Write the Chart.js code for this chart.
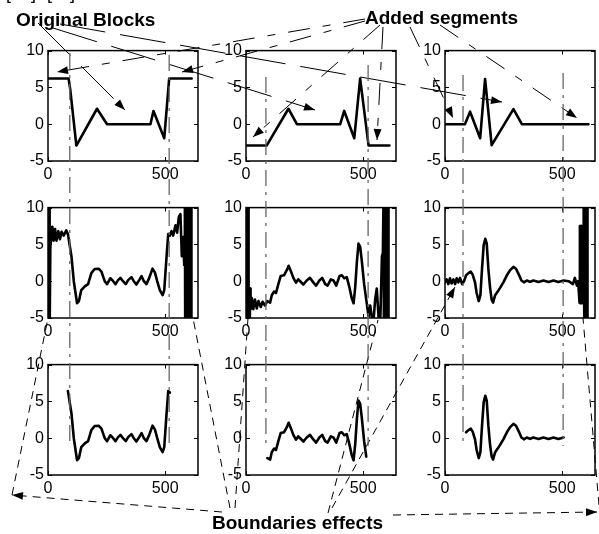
<!DOCTYPE html>
<html><head><meta charset="utf-8">
<script src="https://cdn.jsdelivr.net/npm/chart.js@4.4.1/dist/chart.umd.min.js"></script>
<style>
html,body{margin:0;padding:0;background:#fff;}
#wrap{position:relative;width:599px;height:534px;overflow:hidden;background:#fff;}
canvas{position:absolute;display:block;}
.t{position:absolute;font-family:"Liberation Sans",Arial,sans-serif;font-weight:bold;font-size:19px;line-height:19px;white-space:nowrap;color:#000;}
.br{position:absolute;font-family:"Liberation Sans",Arial,sans-serif;font-size:18px;line-height:18px;color:#000;}
</style></head><body><div id="wrap"></div>
<script>
// ---------- data ----------
const xTicks = [0, 500];
const yTicks = [-5, 0, 5, 10];
const xMin = 0, xMax = 640, yMin = -5, yMax = 10;

// row 1: original blocks + added segments
const r1c1x = [0, 88, 95, 121, 209, 252, 437, 450, 496, 517, 613];
const r1c1y = [6.2, 6.2, 4.7, -2.9, 2.1, 0, 0, 1.8, -1.9, 6.2, 6.2];
const r1c2x = [0, 88, 181, 217, 402, 419, 462, 487, 523, 612];
const r1c2y = [-2.9, -2.9, 2.1, 0, 0, 1.8, -1.9, 6.2, -2.9, -2.9];
const r1c3x = [0, 85, 107, 150, 171, 199, 292, 328, 612];
const r1c3y = [0, 0, 1.7, -1.9, 6.15, -2.85, 2.05, 0, 0];

// row 2: filtered signals with boundary effects
const r2c1x = [0,1,2,3,4,5,6,7,8,10,18.5,24,30,36,44,51,58,67,78,85,100,110,124,132,142,157,171,185,199,216,228,242,252,266,278,288,299,309,320,332,342,356,366,377,389,399,409,420,432,446,456,466,477,489,496,506,513,520,527,534,544,551,558,565,571,577,581,584,585.5,587,588.5,590,591.5,593,594.5,596,597.5,599,600.5,602,603.5,605,606.5,608,609.5,611,612];
const r2c1y = [-7,12,-7,12,-7,12,-7,12,-7,4.7,7.4,5.5,7.1,5.5,6.8,5.7,6.7,6.2,6.9,6.4,3.4,0,-3.0,-2.7,-1.2,-0.7,-0.4,1.1,1.65,1.7,1.3,0,-0.4,0.4,0,-0.4,0.15,0.45,0,-0.4,0.15,0.55,0,-0.45,0.15,0.7,0,-0.4,0.45,1.7,1.2,0,-1.2,-1.9,-1.2,3.4,6.4,6.2,6.8,6.2,7.6,6.6,8.7,9.1,3.4,6,2.2,12,-7,12,-7,12,-7,12,-7,12,-7,12,-7,12,-7,12,-7,12,-7,12,-7];
const r2c2x = [0,1,2,3,4,5,6,7,8,9,10,11,12,14,16,18,19.5,25,31,38,46,53,63,71,81,91,103,110,120,128,138,148,162,174,182,191,202,213,223,231,245,259,273,288,299,313,325,338,348,362,373,385,399,409,419,430,441,451,459,466,473,480,487,494,504,513,523,530,537,544,551,558,566,573,580,584,587,588.5,590,591.5,593,594.5,596,597.5,599,600.5,602,603.5,605,606.5,608];
const r2c2y = [-7,12,-7,12,-7,12,-7,12,-7,12,-7,12,-7,-1,-6,-1,-3.8,-2.3,-3.8,-2.5,-3.7,-2.7,-3.5,-2.8,-3.3,-2.7,-2.9,-1.9,-1.4,-1.6,-0.4,0.7,0.8,1.5,2.1,1.4,0.45,-0.2,0.25,0,-0.45,0.1,0.45,-0.2,-0.6,0.1,0.45,-0.4,-0.6,0.25,0.1,-0.6,0.7,0.8,0.4,0.55,-0.8,-2.3,-3.0,-0.8,2.6,5.1,4.7,2.8,-0.4,-2.5,-4.8,-3.3,-5,-5.4,-2.5,-1.0,-5.0,-5.4,3.4,3.8,12,-7,12,-7,12,-7,12,-7,12,-7,12,-7,12,-7,12];
const r2c3x = [0,7,14,21,28,36,43,50,57,64,73,81,90,100,110,118,128,135,144,151,158,165,172,178,185,192,199,205,214,224,235,249,264,278,292,303,315,326,338,349,363,377,399,420,442,463,484,506,527,546,554,563,568,574,575.5,577,578.5,580,581.5,583,584.5,586,587.5,589,590.5,593,594.5,596,597.5,599,600.5,602,603.5,605,606.5,608];
const r2c3y = [-0.15,0.25,-0.4,0.4,-0.3,0.25,-0.4,0.4,-0.15,0.45,-0.4,0,0.8,1.1,1.3,0.9,-0.15,-1.6,-2.7,-1.9,1.7,4.9,5.75,5.1,1.7,-0.8,-2.5,-2.9,-1.9,-1.45,-0.9,-0.15,0.8,1.5,1.95,1.7,0.9,0.1,-0.15,0.1,-0.1,0.1,-0.1,0.1,-0.1,0.1,-0.1,0.1,0,-0.4,0.45,-0.6,0,-2.9,7.5,-3,7.5,-3,7.5,-3,7.5,-3,7.5,-3,7.5,12,-7,12,-7,12,-7,12,-7,12,-7,12];

// row 3: row-2 signal kept between the block limits
const keepRange = [[85, 520], [88, 516], [88, 510]];
// dash-dot block limits (data x, per column)
const blockLimits = [[93, 517], [85, 521], [77, 504]];

// ---------- layout ----------
const FONT = '"Liberation Sans", Arial, sans-serif';
const colLeft = [48, 246, 445], rowTop = [43, 200, 357], PW = 150, PH = 118;
const LEFT = 30, TOP = 6, RIGHT = 8, BOTTOM = 26;
const wrap = document.getElementById('wrap');
function mkCanvas(l, t, w, h) {
  const c = document.createElement('canvas');
  c.width = w; c.height = h;
  c.style.left = l + 'px'; c.style.top = t + 'px';
  c.style.width = w + 'px'; c.style.height = h + 'px';
  wrap.appendChild(c); return c;
}
const boxPlugin = {
  id: 'box',
  afterDraw(ch) {
    const {ctx, chartArea: a, scales: {x, y}} = ch;
    ctx.save();
    ctx.strokeStyle = '#000';
    ctx.lineWidth = 1;
    ctx.beginPath();
    xTicks.forEach(v => { const p = Math.round(x.getPixelForValue(v)) + 0.5;
      ctx.moveTo(p, a.bottom); ctx.lineTo(p, a.bottom - 4);
      ctx.moveTo(p, a.top); ctx.lineTo(p, a.top + 4); });
    yTicks.forEach(v => { const p = Math.round(y.getPixelForValue(v)) + 0.5;
      ctx.moveTo(a.left, p); ctx.lineTo(a.left + 4, p);
      ctx.moveTo(a.right, p); ctx.lineTo(a.right - 4, p); });
    ctx.stroke();
    ctx.lineWidth = 1.5;
    ctx.strokeRect(a.left, a.top, a.right - a.left, a.bottom - a.top);
    ctx.restore();
  }
};
function panel(r, c, xs, ys) {
  const cv = mkCanvas(colLeft[c] - LEFT, rowTop[r] - TOP, LEFT + PW + RIGHT, TOP + PH + BOTTOM);
  const pts = xs.map((x, i) => ({x: x, y: ys[i]}));
  const tickFont = {family: FONT, size: 16};
  return new Chart(cv, {
    type: 'line',
    data: {datasets: [{data: pts, borderColor: '#000', borderWidth: 2.6, pointRadius: 0,
      tension: 0, fill: false, borderJoinStyle: 'round', borderCapStyle: 'round'}]},
    options: {
      animation: false, responsive: false, devicePixelRatio: 1, events: [],
      layout: {padding: {left: 0, right: RIGHT, top: TOP, bottom: 0}},
      plugins: {legend: {display: false}, tooltip: {enabled: false}},
      scales: {
        x: {type: 'linear', min: xMin, max: xMax,
          afterFit: s => { s.height = BOTTOM; },
          afterBuildTicks: s => { s.ticks = xTicks.map(v => ({value: v})); },
          grid: {display: false, drawTicks: false}, border: {display: false},
          ticks: {color: '#000', font: tickFont, padding: 4, maxRotation: 0, autoSkip: false,
            callback: v => String(v)}},
        y: {type: 'linear', min: yMin, max: yMax,
          afterFit: s => { s.width = LEFT; },
          afterBuildTicks: s => { s.ticks = yTicks.map(v => ({value: v})); },
          grid: {display: false, drawTicks: false}, border: {display: false},
          ticks: {color: '#000', font: tickFont, padding: 4, autoSkip: false,
            callback: v => String(v)}}
      }
    },
    plugins: [boxPlugin]
  });
}
const row1 = [[r1c1x, r1c1y], [r1c2x, r1c2y], [r1c3x, r1c3y]];
const row2 = [[r2c1x, r2c1y], [r2c2x, r2c2y], [r2c3x, r2c3y]];
const charts = [[], [], []];
for (let c = 0; c < 3; c++) {
  charts[0].push(panel(0, c, row1[c][0], row1[c][1]));
  charts[1].push(panel(1, c, row2[c][0], row2[c][1]));
  const [lo, hi] = keepRange[c];
  const xs = [], ys = [];
  row2[c][0].forEach((x, i) => { if (x >= lo && x <= hi) { xs.push(x); ys.push(row2[c][1][i]); } });
  charts[2].push(panel(2, c, xs, ys));
}

// ---------- annotations (page coordinates) ----------
const origLines = [[[38,23],[125,110]], [[53,28],[315,110]], [[60,24],[502,102]]];
const addedLines = [[[365,19],[57,72]], [[365,21],[182,72]], [[380,25],[253,137]],
                    [[383,27],[377,140]], [[410,27],[453,118]], [[440,25],[577,118]]];
const boundArrows = [[[222,512],[12,495]], [[393,515],[597,512]], [[332,508],[455,287]]];
const boundLines = [[[12,495],[48,318]], [[599,505],[583,318]], [[230,508],[193,318]],
                    [[235,508],[248,318]], [[328,513],[378,320]]];
const vTop = [[53,55],[77,65],[75,73]], vBottom = 446;

const ds = [];
const P = a => ({x: a[0], y: a[1]});
blockLimits.forEach((lims, c) => {
  lims.forEach((v, k) => {
    const px = colLeft[c] - LEFT + charts[0][c].scales.x.getPixelForValue(v);
    ds.push({data: [{x: px, y: vTop[c][k]}, {x: px, y: vBottom}], borderColor: '#666',
      borderWidth: 1.3, borderDash: [16, 6, 3, 6]});
  });
});
origLines.forEach(l => ds.push({data: l.map(P), borderColor: '#000', borderWidth: 1, borderDash: [46, 15], arrow: true}));
addedLines.forEach(l => ds.push({data: l.map(P), borderColor: '#000', borderWidth: 1, borderDash: [22, 13, 8, 13], arrow: true}));
boundArrows.forEach(l => ds.push({data: l.map(P), borderColor: '#000', borderWidth: 1, borderDash: [8, 6], arrow: true}));
boundLines.forEach(l => ds.push({data: l.map(P), borderColor: '#000', borderWidth: 1, borderDash: [8, 6]}));
ds.forEach(d => { d.showLine = true; d.pointRadius = 0; d.fill = false; d.clip = false; });

const arrowPlugin = {
  id: 'arrows',
  afterDatasetsDraw(ch) {
    const ctx = ch.ctx;
    ch.data.datasets.forEach((d, i) => {
      if (!d.arrow) return;
      const m = ch.getDatasetMeta(i);
      const p = m.data[m.data.length - 1], q = m.data[m.data.length - 2];
      const ang = Math.atan2(p.y - q.y, p.x - q.x), L = 11, W = 4;
      const cx = Math.cos(ang), sy = Math.sin(ang);
      ctx.save(); ctx.fillStyle = '#000'; ctx.beginPath();
      ctx.moveTo(p.x, p.y);
      ctx.lineTo(p.x - L * cx + W * sy, p.y - L * sy - W * cx);
      ctx.lineTo(p.x - L * cx - W * sy, p.y - L * sy + W * cx);
      ctx.closePath(); ctx.fill(); ctx.restore();
    });
  }
};
const ov = mkCanvas(0, 0, 599, 534);
new Chart(ov, {
  type: 'scatter',
  data: {datasets: ds},
  options: {animation: false, responsive: false, devicePixelRatio: 1, events: [],
    layout: {padding: 0},
    plugins: {legend: {display: false}, tooltip: {enabled: false}},
    scales: {x: {type: 'linear', min: 0, max: 599, display: false},
             y: {type: 'linear', min: 0, max: 534, reverse: true, display: false}}},
  plugins: [arrowPlugin]
});

// ---------- text ----------
function txt(cls, s, l, t) { const d = document.createElement('div'); d.className = cls; d.textContent = s;
  d.style.left = l + 'px'; d.style.top = t + 'px'; wrap.appendChild(d); }
txt('br', '[', 6, -16); txt('br', ']', 31, -16); txt('br', '[', 47, -16); txt('br', ']', 70, -16);
txt('t', 'Original Blocks', 16, 10);
txt('t', 'Added segments', 365, 8);
txt('t', 'Boundaries effects', 212, 513);
</script></body></html>
